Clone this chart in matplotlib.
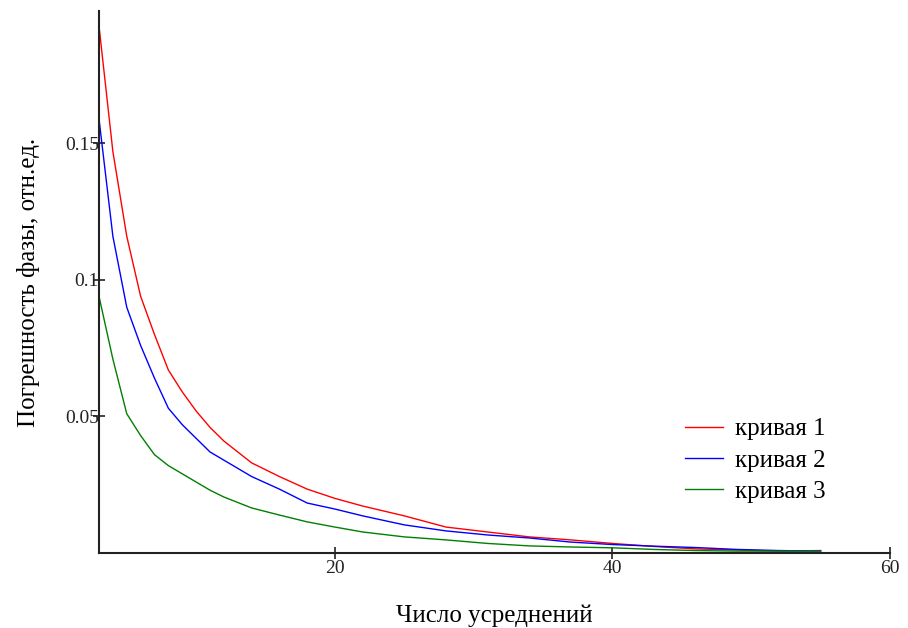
import matplotlib
matplotlib.use('Agg')
from matplotlib import pyplot

pyplot.rcParams.update({'font.family': 'Liberation Serif', 'font.size': 14})

# values
n = [3, 4, 5, 6, 7, 8, 9, 10, 11, 12, 14, 16, 18, 20, 22, 25, 28, 31, 34, 37, 40, 43, 46, 49, 52, 55]
curve1 = [0.193, 0.147, 0.116, 0.094, 0.080, 0.067, 0.059, 0.052, 0.046, 0.041, 0.033, 0.028, 0.0234,
          0.020, 0.0172, 0.0136, 0.0095, 0.0077, 0.0059, 0.0048, 0.0035, 0.0024, 0.0015, 0.0011, 0.0007, 0.0009]
curve2 = [0.159, 0.116, 0.090, 0.076, 0.064, 0.053, 0.047, 0.042, 0.037, 0.034, 0.028, 0.0234, 0.0183,
          0.0161, 0.0136, 0.0103, 0.0081, 0.0066, 0.0055, 0.0040, 0.0031, 0.0025, 0.0020, 0.0013, 0.0009, 0.0007]
curve3 = [0.094, 0.071, 0.051, 0.043, 0.036, 0.032, 0.029, 0.026, 0.023, 0.0205, 0.0165, 0.0139, 0.0114,
          0.0095, 0.0077, 0.0059, 0.0048, 0.0035, 0.0026, 0.0022, 0.0019, 0.0013, 0.0009, 0.0007, 0.0007, 0.0007]
labels = ['кривая 1', 'кривая 2', 'кривая 3']
colors = ['#ff0000', '#0000ff', '#008000']

fig = pyplot.figure(figsize=(9.08, 6.28), dpi=100)
ax = fig.add_axes([99 / 908, 1 - 553 / 628, (890 - 99) / 908, (553 - 11) / 628])

for y, lab, c in zip([curve1, curve2, curve3], labels, colors):
    ax.plot(n, y, color=c, linewidth=1.0, label=lab)

ax.set_xlim(3, 60)
ax.set_ylim(0, 0.1985)
ax.set_xticks([20, 40, 60])
ax.set_yticks([0.05, 0.1, 0.15])
ax.set_yticklabels(['0.05', '0.1', '0.15'])

ax.spines['top'].set_visible(False)
ax.spines['right'].set_visible(False)
for s in ['left', 'bottom']:
    ax.spines[s].set_linewidth(1.5)
    ax.spines[s].set_color('#222222')
ax.tick_params(direction='inout', length=8, width=1.2, colors='#222222', labelsize=14)
ax.tick_params(axis='y', pad=-4)
ax.tick_params(axis='x', pad=1)

ax.set_xlabel('Число усреднений', fontsize=18, labelpad=20)
ax.set_ylabel('Погрешность фазы, отн.ед.', fontsize=18, labelpad=18)

ax.legend(loc='upper left', bbox_to_anchor=(685 / 908, 1 - 418 / 628), bbox_transform=fig.transFigure,
          frameon=False, fontsize=18, borderaxespad=0, borderpad=0,
          handlelength=1.5, handletextpad=0.5, labelspacing=0.35)

fig.savefig('out.png', dpi=100)
